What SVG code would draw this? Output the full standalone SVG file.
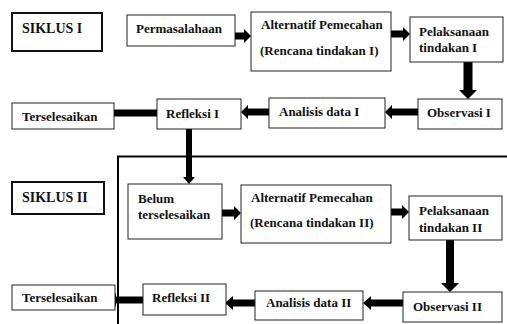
<svg xmlns="http://www.w3.org/2000/svg" width="507" height="324" viewBox="0 0 507 324">
<style>
.box{fill:#fff;stroke:#222;stroke-width:1}
.thick{fill:#fff;stroke:#111;stroke-width:2}
text{font-family:"Liberation Serif","Times New Roman",serif;font-weight:bold;font-size:13px;fill:#111}
.big{font-size:14px}
.arr{fill:#000}
.frame{fill:none;stroke:#000;stroke-width:2}
</style>
<rect width="507" height="324" fill="#fff"/>
<g id="frame"><path class="frame" d="M117,156.5 H507 M118,156 V324"/></g>
<g id="connectors">
<polygon class="arr" points="235,32.5 244,32.5 244,29 251,36 244,43 244,39.5 235,39.5"/>
<polygon class="arr" points="391,30.5 403,30.5 403,27 410,34 403,41 403,37.5 391,37.5"/>
<polygon class="arr" points="463.5,62 463.5,90 459,90 468,99 477,90 472.5,90 472.5,62"/>
<polygon class="arr" points="418,108.5 392,108.5 392,105 385,112 392,119 392,115.5 418,115.5"/>
<polygon class="arr" points="269,108.5 248,108.5 248,105 241,112 248,119 248,115.5 269,115.5"/>
<polygon class="arr" points="157,109.5 113,109.5 113,106 105,113 113,120 113,116.5 157,116.5"/>
<polygon class="arr" points="186,129 186,177 183,177 189,184 195,177 192,177 192,129"/>
<polygon class="arr" points="222,209.5 234,209.5 234,206 241,213 234,220 234,216.5 222,216.5"/>
<polygon class="arr" points="391,208.5 402,208.5 402,205 409,212 402,219 402,215.5 391,215.5"/>
<polygon class="arr" points="446,240 446,283 441,283 450,292 459,283 454,283 454,240"/>
<polygon class="arr" points="404,299.5 371,299.5 371,296 363,303 371,310 371,306.5 404,306.5"/>
<polygon class="arr" points="255,299.5 233,299.5 233,296 225,303 233,310 233,306.5 255,306.5"/>
<polygon class="arr" points="143,296.5 116,296.5 116,293 108,300 116,307 116,303.5 143,303.5"/>
</g>
<g id="siklus1"><rect class="thick" x="12" y="13" width="90" height="38"/><text class="big" x="22" y="33">SIKLUS I</text></g>
<g id="permasalahaan"><rect class="box" x="127" y="15" width="108" height="31"/><text x="136" y="33">Permasalahaan</text></g>
<g id="alternatif1"><rect class="box" x="251" y="12" width="140" height="59"/><text x="261" y="29">Alternatif Pemecahan</text><text x="260" y="55">(Rencana tindakan I)</text></g>
<g id="pelaksanaan1"><rect class="box" x="410" y="17" width="93" height="45"/><text x="419" y="36">Pelaksanaan</text><text x="419" y="52">tindakan I</text></g>
<g id="observasi1"><rect class="box" x="418" y="99" width="84" height="30"/><text x="427" y="117">Observasi I</text></g>
<g id="analisis1"><rect class="box" x="269" y="98" width="116" height="30"/><text x="279" y="116">Analisis data I</text></g>
<g id="refleksi1"><rect class="box" x="157" y="99" width="84" height="30"/><text x="166" y="118">Refleksi I</text></g>
<g id="terselesaikan1"><rect class="box" x="12" y="103" width="102" height="26"/><text x="22" y="121">Terselesaikan</text></g>
<g id="siklus2"><rect class="thick" x="12" y="182" width="92" height="32"/><text class="big" x="22" y="202">SIKLUS II</text></g>
<g id="belum"><rect class="box" x="128" y="184" width="94" height="55"/><text x="138" y="203">Belum</text><text x="138" y="219">terselesaikan</text></g>
<g id="alternatif2"><rect class="box" x="241" y="185" width="150" height="58"/><text x="251" y="202">Alternatif Pemecahan</text><text x="250" y="227">(Rencana tindakan II)</text></g>
<g id="pelaksanaan2"><rect class="box" x="409" y="196" width="93" height="44"/><text x="419" y="215">Pelaksanaan</text><text x="419" y="232">tindakan II</text></g>
<g id="observasi2"><rect class="box" x="403" y="292" width="99" height="30"/><text x="413" y="311">Observasi II</text></g>
<g id="analisis2"><rect class="box" x="255" y="291" width="108" height="29"/><text x="266" y="307">Analisis data II</text></g>
<g id="refleksi2"><rect class="box" x="143" y="284" width="83" height="31"/><text x="152" y="302">Refleksi II</text></g>
<g id="terselesaikan2"><rect class="box" x="12" y="285" width="103" height="25"/><text x="22" y="302">Terselesaikan</text></g>
</svg>
